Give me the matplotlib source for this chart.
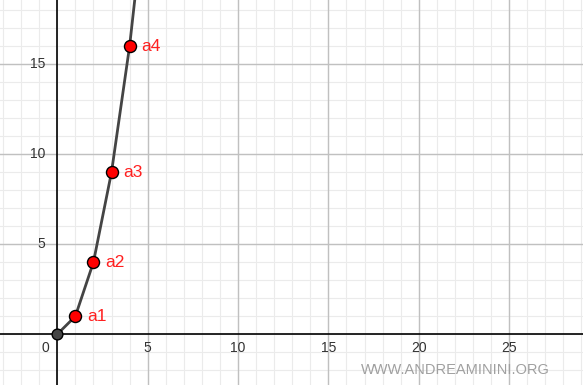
import matplotlib
matplotlib.use("Agg")
import matplotlib.pyplot as plt
import numpy as np

plt.rcParams["font.family"] = ["Liberation Sans", "DejaVu Sans"]

# sequence a_n = n^2 (points shown + one beyond view for the line)
xs = [0, 1, 2, 3, 4, 5]
ys = [0, 1, 4, 9, 16, 25]
labels = ["", "a1", "a2", "a3", "a4", ""]
x_ticks = [5, 10, 15, 20, 25]
y_ticks = [5, 10, 15]

fig = plt.figure(figsize=(5.83, 3.85), dpi=100)
ax = fig.add_axes([0, 0, 1, 1])
ax.set_xlim(-3.17, 29.09)
ax.set_ylim(-2.82, 18.57)

# grid: minor every unit, major every 5
for v in np.arange(-3, 30, 1):
    ax.axvline(v, color="#ebebeb", lw=0.8, zorder=0)
for v in np.arange(-2, 19, 1):
    ax.axhline(v, color="#ebebeb", lw=0.8, zorder=0)
for v in x_ticks:
    ax.axvline(v, color="#c0c0c0", lw=1, zorder=0.5)
for v in y_ticks:
    ax.axhline(v, color="#c0c0c0", lw=1, zorder=0.5)
ax.axhline(0, color="black", lw=1.2, zorder=1)
ax.axvline(0, color="black", lw=1.2, zorder=1)

for v in x_ticks:
    ax.text(v, -0.4, str(v), ha="center", va="top", fontsize=10,
            color="#333333", zorder=2)
for v in y_ticks:
    ax.text(-0.65, v, str(v), ha="right", va="center", fontsize=10,
            color="#333333", zorder=2)
ax.text(-0.45, -0.4, "0", ha="right", va="top", fontsize=10, color="#333333")

# polyline through the points
ax.plot(xs, ys, color="#444444", lw=2, zorder=3)
ax.scatter(xs[:1], ys[:1], s=60, color="#444444", edgecolor="black",
           lw=1, zorder=4)
ax.scatter(xs[1:5], ys[1:5], s=75, color="red", edgecolor="black",
           lw=1, zorder=4)
for x, y, t in zip(xs, ys, labels):
    if t:
        ax.text(x + 0.65, y, t, color="#ff2020", fontsize=12.5, ha="left",
                va="center", zorder=5)

ax.text(0.943, 0.04, "WWW.ANDREAMININI.ORG", transform=ax.transAxes,
        ha="right", va="center", color="#a0a0a0", fontsize=10.5)

for s in ax.spines.values():
    s.set_visible(False)
ax.set_xticks([])
ax.set_yticks([])

fig.savefig("out.png", dpi=100)
